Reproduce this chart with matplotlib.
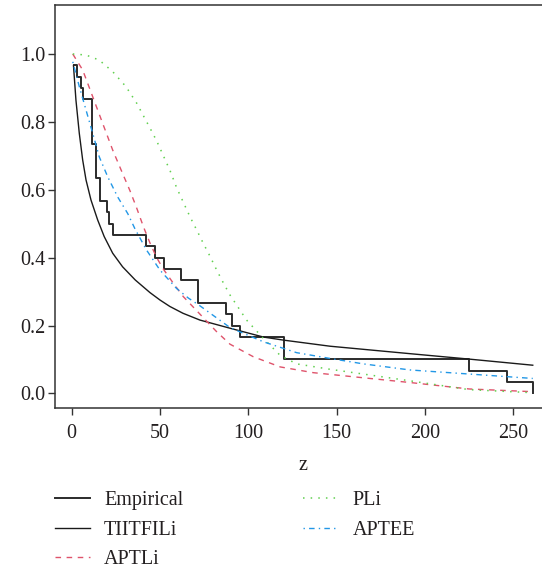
import numpy as np
import matplotlib
matplotlib.use("Agg")
import matplotlib.pyplot as plt

# Empirical survival (step function, n = 30)
emp_z = [1.3, 2.8, 5.1, 6.2, 11.4, 13.9, 16.3, 19.8, 21.0, 23.2, 41.8, 47.3,
         52.3, 61.8, 71.6, 87.2, 90.6, 95.3, 120.3, 224.9, 246.2, 261.0]
emp_n = [29, 28, 27, 26, 22, 19, 17, 16, 15, 14, 13, 12,
         11, 10, 8, 7, 6, 5, 3, 2, 1, 0]

# fitted survival curves
tiit_z = [1.0, 2.4, 4.3, 6.2, 8.1, 10.9, 14.7, 18.4, 23.2, 28.8, 36.0, 44.3,
          50.0, 55.6, 63.0, 72.6, 89.6, 108.5, 119.8, 146.2, 191.5, 225.0, 261.0]
tiit_s = [0.966, 0.864, 0.766, 0.688, 0.629, 0.570, 0.511, 0.462, 0.413, 0.373, 0.334, 0.297,
          0.275, 0.256, 0.236, 0.216, 0.192, 0.166, 0.157, 0.139, 0.117, 0.101, 0.083]

aptli_z = [0.6, 6.2, 11.9, 17.5, 23.2, 28.8, 33.0, 36.8, 40.6, 44.4, 48.1, 51.9,
           57.6, 63.2, 82.0, 89.6, 102.8, 118.0, 136.8, 165.0, 191.5, 225.0, 261.0]
aptli_s = [1.0, 0.953, 0.874, 0.796, 0.717, 0.648, 0.597, 0.546, 0.491, 0.442, 0.400, 0.366,
           0.324, 0.285, 0.182, 0.145, 0.108, 0.078, 0.061, 0.046, 0.032, 0.013, 0.005]

pli_z = [0.6, 8.1, 15.6, 23.2, 30.7, 36.8, 40.6, 44.4, 48.1, 51.9, 55.7, 59.4,
         63.2, 67.0, 70.8, 74.5, 78.3, 82.1, 85.8, 89.6, 99.0, 108.5, 118.0, 127.3,
         146.2, 165.0, 191.5, 225.0, 261.0]
pli_s = [1.0, 0.997, 0.982, 0.948, 0.904, 0.855, 0.818, 0.781, 0.744, 0.700, 0.656, 0.606,
         0.563, 0.520, 0.481, 0.442, 0.404, 0.363, 0.326, 0.290, 0.216, 0.162, 0.112, 0.087,
         0.071, 0.057, 0.037, 0.011, 0.002]

aptee_z = [0.6, 4.3, 8.1, 11.9, 15.6, 20.4, 26.0, 31.7, 35.8, 42.4, 50.0, 59.4,
           66.0, 72.6, 89.6, 108.5, 127.3, 146.2, 165.0, 191.5, 225.0, 261.0]
aptee_s = [0.977, 0.904, 0.835, 0.766, 0.697, 0.638, 0.579, 0.530, 0.485, 0.422, 0.363, 0.309,
           0.281, 0.258, 0.194, 0.152, 0.120, 0.103, 0.087, 0.069, 0.057, 0.044]

plt.rcParams["font.family"] = ["Liberation Serif", "DejaVu Serif"]
plt.rcParams["font.size"] = 14.5
ink = "#231f20"

fig = plt.figure(figsize=(5.42, 5.69), dpi=100)
ax = fig.add_axes([0.1015, 0.2824, 0.915, 0.708])

emp_s = np.array(emp_n) / 30
ax.step(emp_z, emp_s, where="post", color="#2b2b2b", lw=1.4, label="Empirical")
ax.plot(tiit_z, tiit_s, color="#1a1a1a", lw=1.0, label="TIITFILi")
ax.plot(aptli_z, aptli_s, color="#DF536B", lw=1.0, dashes=(4, 4), label="APTLi")
ax.plot(pli_z, pli_s, color="#61D04F", lw=1.1, dashes=(1, 4), label="PLi")
ax.plot(aptee_z, aptee_s, color="#2297E6", lw=1.0, dashes=(1, 3, 4, 3), label="APTEE")

ax.set_xlim(-9.45, 271.3)
ax.set_ylim(-0.044, 1.143)
ax.set_xticks([0, 50, 100, 150, 200, 250])
ax.set_yticks([0.0, 0.2, 0.4, 0.6, 0.8, 1.0])
ax.set_yticklabels(["0.0", "0.2", "0.4", "0.6", "0.8", "1.0"])
ax.tick_params(direction="out", length=5, width=1, colors="#333333", labelcolor=ink)
ax.tick_params(axis="x", pad=6.5)
ax.tick_params(axis="y", pad=2)
for side in ["left", "bottom", "top", "right"]:
    ax.spines[side].set_color("#333333")
    ax.spines[side].set_linewidth(1.1)
ax.set_xlabel("z", color=ink, labelpad=9)

ax.legend(loc="upper left", bbox_to_anchor=(0.1015, 0.137), bbox_transform=fig.transFigure,
          ncol=2, frameon=False, handlelength=1.74, handletextpad=0.7,
          columnspacing=5.95, labelspacing=0.52, borderpad=0, borderaxespad=0,
          labelcolor=ink)

fig.savefig("out.png", dpi=100)
